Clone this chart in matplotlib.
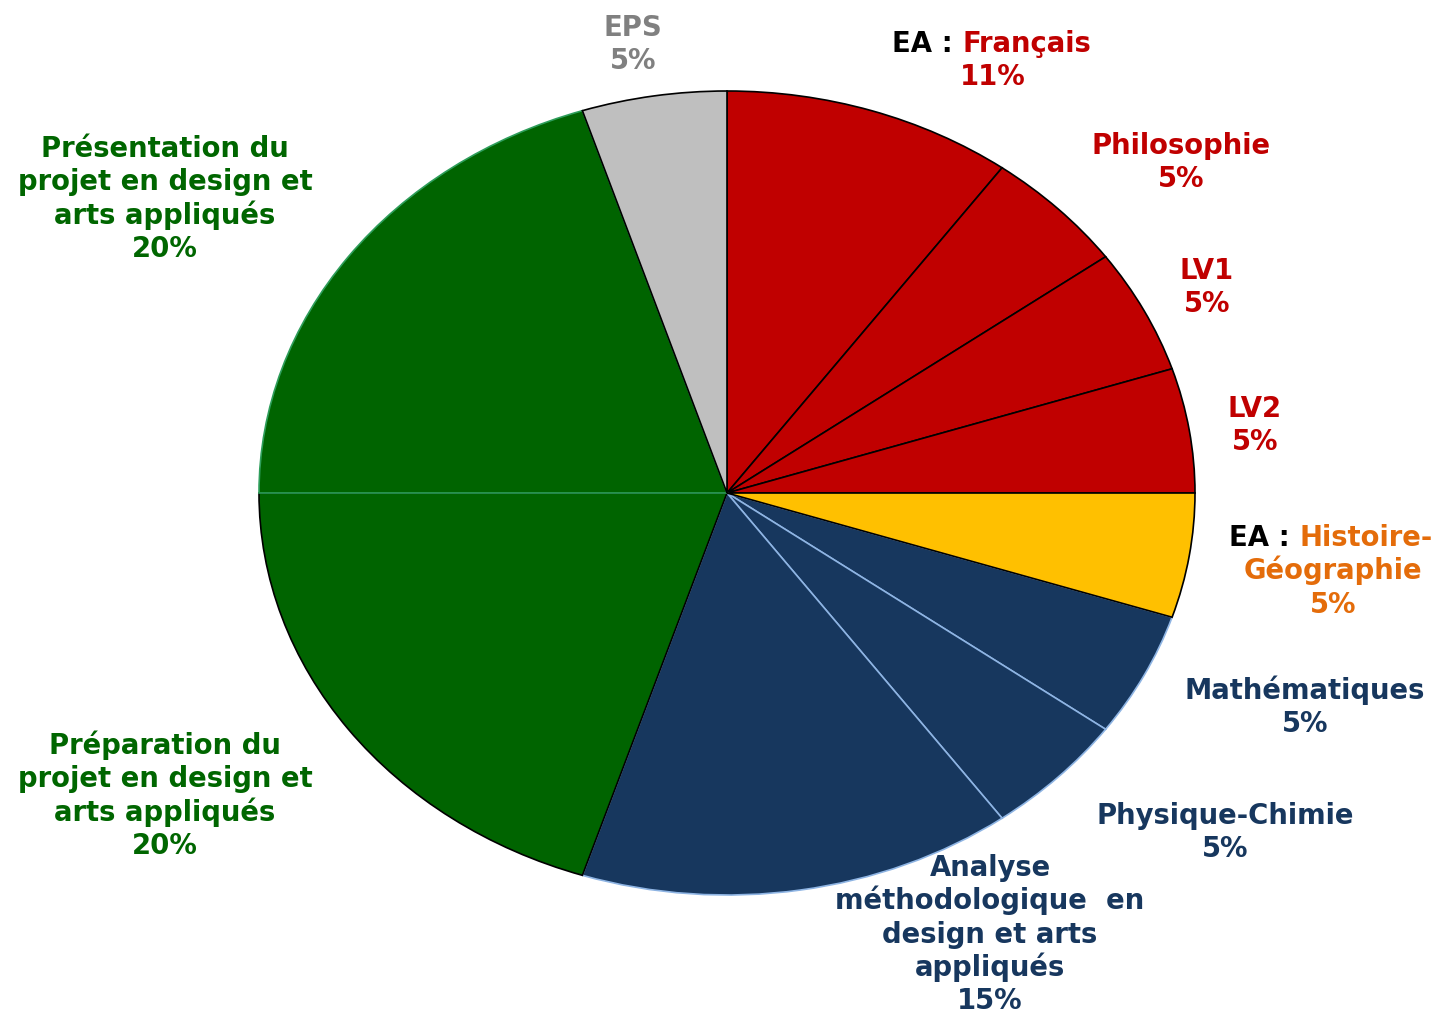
import matplotlib.pyplot as plt

# subjects, clockwise from 12 o'clock
subjects = ["EA : Français", "Philosophie", "LV1", "LV2",
            "EA : Histoire-\nGéographie", "Mathématiques", "Physique-Chimie",
            "Analyse\nméthodologique  en\ndesign et arts\nappliqués",
            "Préparation du\nprojet en design et\narts appliqués",
            "Présentation du\nprojet en design et\narts appliqués",
            "EPS"]
shares = [10, 5, 5, 5, 5, 5, 5, 15, 20, 20, 5]
pct_text = ["11%", "5%", "5%", "5%", "5%", "5%", "5%", "15%", "20%", "20%", "5%"]

RED, YEL, NAVY, GREEN, GREY = "#C00000", "#FFC000", "#17375E", "#006400", "#BFBFBF"
slice_colors = [RED, RED, RED, RED, YEL, NAVY, NAVY, NAVY, GREEN, GREEN, GREY]
edge_colors = ["black"] * 5 + ["#8EB4E3"] * 3 + ["black", "#2E9E5B", "black"]
text_colors = [RED, RED, RED, RED, "#E46C0A", NAVY, NAVY, NAVY, "#006600", "#006600", "#808080"]

# label block: (x centre, y centre of first line) in pixels from top-left
label_pos = [(993, 42), (1181, 144), (1207, 269), (1255, 407), (1333, 536),
             (1305, 689), (1225, 814), (990, 866), (165, 744), (165, 147), (633, 26)]
# where "EA : " ends and the coloured part starts
split_x = {0: 962, 4: 1299}

W, H = 1441, 1014
fig = plt.figure(figsize=(W / 100, H / 100), dpi=100)
ax = fig.add_axes([0, 0, 1, 1])

wedges, _ = ax.pie(shares, colors=slice_colors, startangle=90, counterclock=False,
                   wedgeprops=dict(linewidth=1.2))
for w, ec in zip(wedges, edge_colors):
    w.set_edgecolor(ec)
wedges[4].set_zorder(wedges[4].get_zorder() + 0.5)

# stretch the pie into the ellipse of the original
cx, cy, rx, ry = 727, 493, 468, 402
ax.set_aspect("auto")
ax.set_xlim(-cx / rx, (W - cx) / rx)
ax.set_ylim(-(H - cy) / ry, cy / ry)
ax.axis("off")

fs = 19.8
step = 33.3


def fx(px):
    return px / W


def fy(py):
    return 1 - (py + 10) / H  # baseline a bit under the visual centre


for i, (name, pct) in enumerate(zip(subjects, pct_text)):
    x, y0 = label_pos[i]
    lines = name.split("\n") + [pct]
    for j, line in enumerate(lines):
        y = y0 + j * step
        if j == 0 and line.startswith("EA : "):
            sx = split_x[i]
            fig.text(fx(sx), fy(y), "EA : ", color="black", fontsize=fs,
                     fontweight="bold", ha="right", va="baseline")
            fig.text(fx(sx), fy(y), line[5:], color=text_colors[i], fontsize=fs,
                     fontweight="bold", ha="left", va="baseline")
        else:
            fig.text(fx(x), fy(y), line, color=text_colors[i], fontsize=fs,
                     fontweight="bold", ha="center", va="baseline")

fig.savefig("out.png", dpi=100)
